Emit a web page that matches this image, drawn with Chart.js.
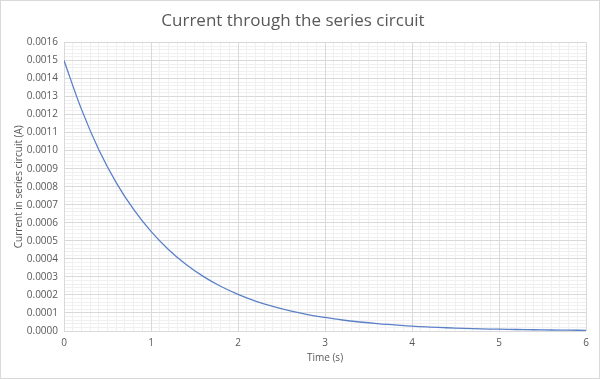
<!DOCTYPE html>
<html>
<head>
<meta charset="utf-8">
<script src="https://cdn.jsdelivr.net/npm/chart.js@4.4.1/dist/chart.umd.min.js"></script>
<style>
  html, body { margin: 0; padding: 0; background: #fff; }
  #wrap { width: 600px; height: 379px; position: relative; }
</style>
</head>
<body>
<div id="wrap"><canvas id="c" width="600" height="379"></canvas></div>
<script>
const chartTitle = "Current through the series circuit";
const xTitle = "Time (s)";
const yTitle = "Current in series circuit (A)";

const times = [0, 0.2, 0.4, 0.6, 0.8, 1.0, 1.2, 1.4, 1.6, 1.8, 2.0, 2.2, 2.4, 2.6, 2.8, 3.0,
  3.2, 3.4, 3.6, 3.8, 4.0, 4.2, 4.4, 4.6, 4.8, 5.0, 5.2, 5.4, 5.6, 5.8, 6.0];
const current = [0.00150, 0.00123, 0.001005, 0.000823, 0.000674, 0.000552, 0.000452, 0.000370,
  0.000303, 0.000248, 0.000203, 0.000166, 0.000136, 0.000111, 0.000091, 0.000075,
  0.000061, 0.000050, 0.000041, 0.000034, 0.000027, 0.000022, 0.000018, 0.000015,
  0.000012, 0.000010, 0.0000082, 0.0000068, 0.0000055, 0.0000045, 0.0000037];

const xMin = 0, xMax = 6, xStep = 1, xMinorStep = 0.1;
const yMin = 0, yMax = 0.0016, yStep = 0.0001, yMinorStep = 0.00002;

const textColor = "#595959";
const fontFamily = "'Open Sans', 'Liberation Sans', sans-serif";

const bgBorder = {
  id: "bgBorder",
  beforeDraw(chart) {
    const ctx = chart.ctx;
    ctx.save();
    ctx.fillStyle = "#ffffff";
    ctx.fillRect(0, 0, chart.width, chart.height);
    ctx.strokeStyle = "#d9d9d9";
    ctx.lineWidth = 1;
    ctx.strokeRect(0.5, 0.5, chart.width - 1, chart.height - 1);
    ctx.restore();
  }
};

new Chart(document.getElementById("c"), {
  type: "line",
  data: {
    datasets: [{
      data: times.map((t, i) => ({ x: t, y: current[i] })),
      borderColor: "#5b80c8",
      borderWidth: 1.3,
      pointRadius: 0,
      fill: false,
      tension: 0.4
    }]
  },
  options: {
    responsive: false,
    animation: false,
    devicePixelRatio: 1,
    layout: { padding: { left: 0, right: 14, top: 0, bottom: 0 } },
    plugins: {
      legend: { display: false },
      tooltip: { enabled: false },
      title: {
        display: true,
        text: chartTitle,
        color: textColor,
        font: { family: fontFamily, size: 17, weight: "normal" },
        padding: { top: 11, bottom: 11 }
      }
    },
    scales: {
      xm: {
        type: "linear", position: "bottom", min: xMin, max: xMax, z: -2,
        ticks: { display: false, stepSize: xMinorStep },
        grid: { color: "#f0f0f0", drawTicks: false, lineWidth: 1 },
        border: { display: false },
        afterFit(s) { s.height = 0; }
      },
      ym: {
        type: "linear", position: "left", min: yMin, max: yMax, z: -2,
        ticks: { display: false, stepSize: yMinorStep },
        grid: { color: "#f0f0f0", drawTicks: false, lineWidth: 1 },
        border: { display: false },
        afterFit(s) { s.width = 0; }
      },
      x: {
        type: "linear", position: "bottom", min: xMin, max: xMax, z: -1,
        ticks: { stepSize: xStep, color: textColor, font: { family: fontFamily, size: 10 }, padding: 6 },
        grid: { color: "#d9d9d9", drawTicks: false },
        border: { display: false },
        title: { display: true, text: xTitle, color: textColor, font: { family: fontFamily, size: 10 }, padding: { top: 4, bottom: 15 } },
        afterFit(s) { s.height = 48; }
      },
      y: {
        type: "linear", position: "left", min: yMin, max: yMax, z: -1,
        ticks: { stepSize: yStep, color: textColor, font: { family: fontFamily, size: 10 }, padding: 6,
          callback: v => Number(v).toFixed(4) },
        grid: { color: "#d9d9d9", drawTicks: false },
        border: { display: false },
        title: { display: true, text: yTitle, color: textColor, font: { family: fontFamily, size: 10 }, padding: { top: 13, bottom: 2 } },
        afterFit(s) { s.width = 64; }
      }
    }
  },
  plugins: [bgBorder]
});
</script>
</body>
</html>
